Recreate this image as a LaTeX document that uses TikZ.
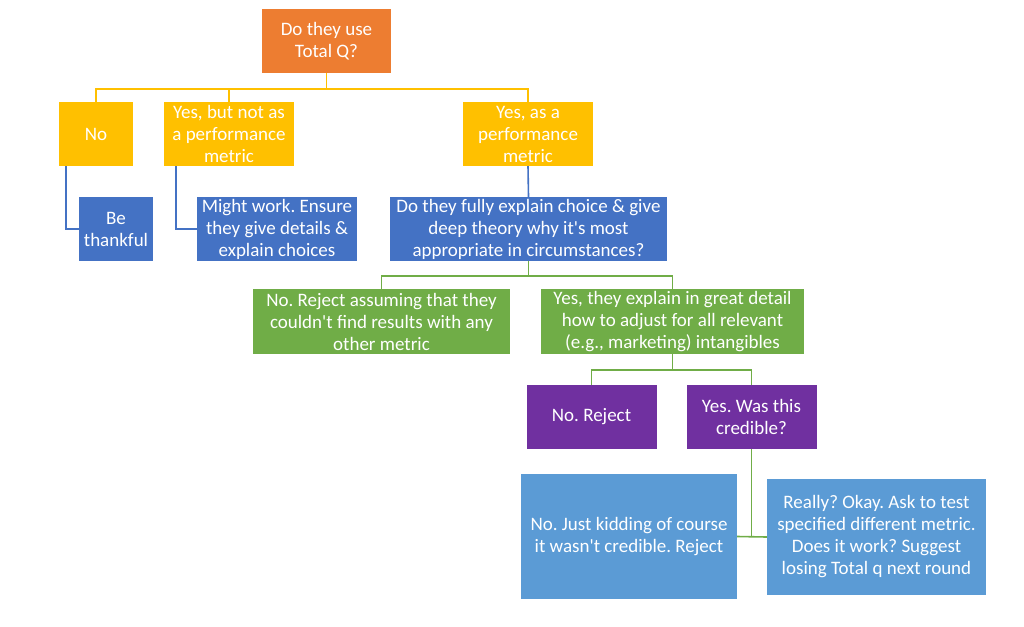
\documentclass[tikz,border=0pt]{standalone}
\usepackage{fontspec}
\setmainfont{Carlito}
\frenchspacing
\definecolor{cOr}{HTML}{ED7D31}
\definecolor{cYl}{HTML}{FFC000}
\definecolor{cBl}{HTML}{4472C4}
\definecolor{cGr}{HTML}{70AD47}
\definecolor{cPu}{HTML}{7030A0}
\definecolor{cLb}{HTML}{5B9BD5}
\newcommand{\ap}{\textquotesingle}
\begin{document}
\begin{tikzpicture}[x=1pt,y=-1pt,
  box/.style={rectangle, inner sep=0pt, align=center, text=white,
    font=\fontsize{19}{22}\selectfont\frenchspacing},
  bx/.style 2 args={box, minimum width=#1pt, minimum height=#2pt},
  lnY/.style={draw=cYl, line width=1.6pt},
  lnB/.style={draw=cBl, line width=1.6pt},
  lnG/.style={draw=cGr, line width=1.6pt}]
\useasboundingbox[fill=white] (0,0) rectangle (1024,626);

\node[bx={129}{64}, fill=cOr] (q) at (326.5,41) {Do they use\\Total Q?};
\node[bx={74}{64}, fill=cYl] (no) at (96,134) {No};
\node[bx={130}{64}, fill=cYl] (yb) at (229,134) {Yes, but not as\\a performance\\metric};
\node[bx={130}{64}, fill=cYl] (ya) at (528,134) {Yes, as a\\performance\\metric};
\node[bx={74}{64}, fill=cBl] (thank) at (116,229) {Be\\thankful};
\node[bx={160}{64}, fill=cBl] (might) at (277,229) {Might work. Ensure\\they give details \&\\explain choices};
\node[bx={277}{64}, fill=cBl] (fully) at (528.5,229) {Do they fully explain choice \& give\\deep theory why it\ap s most\\appropriate in circumstances?};
\node[bx={257}{65}, fill=cGr] (gn) at (381.5,321.5) {No. Reject assuming that they\\couldn\ap t find results with any\\other metric};
\node[bx={263}{65}, fill=cGr] (gy) at (672.5,321.5) {Yes, they explain in great detail\\how to adjust for all relevant\\(e.g., marketing) intangibles};
\node[bx={130}{64}, fill=cPu] (pn) at (591.5,417) {No. Reject};
\node[bx={130}{64}, fill=cPu] (py) at (751.5,417) {Yes. Was this\\credible?};
\node[bx={216}{125}, fill=cLb] (lb1) at (629,536.5) {No. Just kidding of course\\it wasn\ap t credible. Reject};
\node[bx={219}{116}, fill=cLb] (lb2) at (876.5,537) {Really? Okay. Ask to test\\specified different metric.\\Does it work? Suggest\\losing Total q next round};

\draw[lnY] (q.south) -- ++(0,16) -| (no.north);
\draw[lnY] (q.south) -- ++(0,16) -| (yb.north);
\draw[lnY] (q.south) -- ++(0,16) -| (ya.north);
\draw[lnB] ([xshift=-30pt]no.south) |- (thank.west);
\draw[lnB] ([xshift=-53pt]yb.south) |- (might.west);
\draw[lnB] (ya.south) -- (fully.north);
\draw[lnG] (fully.south) -- ++(0,15) -| (gn.north);
\draw[lnG] (fully.south) -- ++(0,15) -| (gy.north);
\draw[lnG] (gy.south) -- ++(0,16) -| (pn.north);
\draw[lnG] (gy.south) -- ++(0,16) -| (py.north);
\draw[lnG] (py.south) -- (py.south |- lb1.east);
\draw[lnG] (lb1.east) -- (lb2.west);
\end{tikzpicture}
\end{document}
